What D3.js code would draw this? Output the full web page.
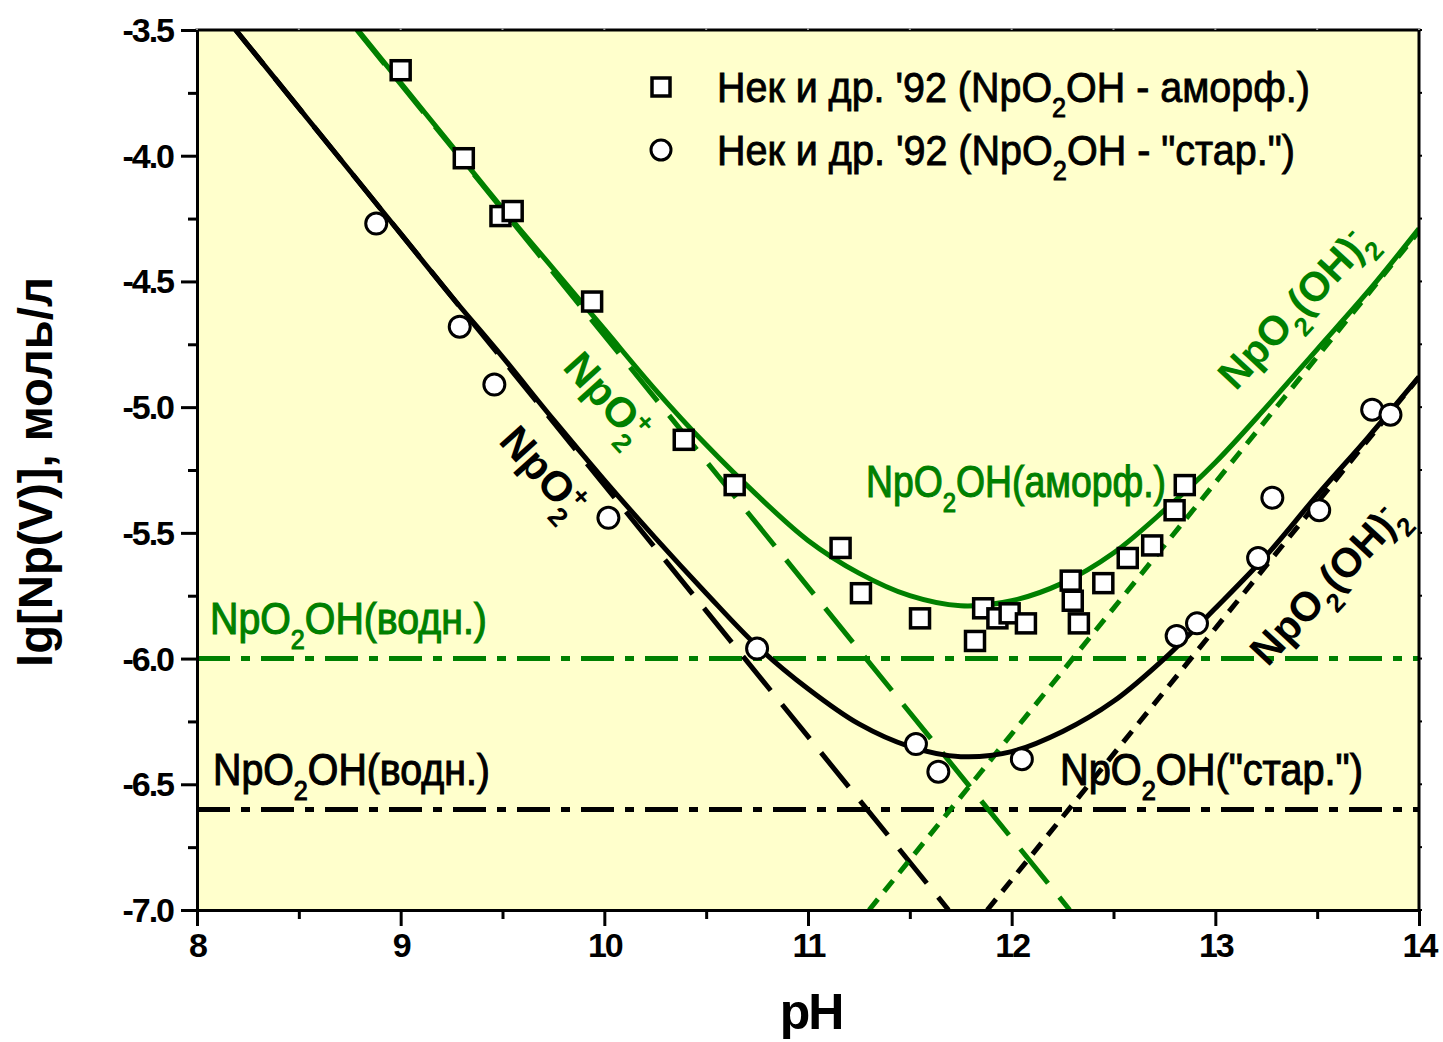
<!DOCTYPE html>
<html>
<head>
<meta charset="utf-8">
<script src="https://cdn.jsdelivr.net/npm/d3@7"></script>
<style>
  body { margin: 0; background: #ffffff; }
  svg { display: block; }
</style>
</head>
<body>
<svg id="chart" width="1443" height="1042"></svg>
<script>
// ---- axes ----
const phDomain = [8, 14];
const lgDomain = [-7.0, -3.5];
const xMajorTicks = [8, 9, 10, 11, 12, 13, 14];
const xTickLabels = ["8", "9", "10", "11", "12", "13", "14"];
const xMinorTicks = [8.5, 9.5, 10.5, 11.5, 12.5, 13.5];
const yMajorTicks = [-3.5, -4.0, -4.5, -5.0, -5.5, -6.0, -6.5, -7.0];
const yTickLabels = ["-3.5", "-4.0", "-4.5", "-5.0", "-5.5", "-6.0", "-6.5", "-7.0"];
const yMinorTicks = [-3.75, -4.25, -4.75, -5.25, -5.75, -6.25, -6.75];

// ---- measured solubility, Нек и др. '92 ----
const amorphPH = [9.00, 9.31, 9.49, 9.55, 9.94, 10.39, 10.64, 11.16, 11.26, 11.55, 11.82, 11.86, 11.93, 11.99, 12.07, 12.29, 12.30, 12.33, 12.45, 12.57, 12.69, 12.80, 12.85];
const amorphLg = [-3.66, -4.01, -4.24, -4.22, -4.58, -5.13, -5.31, -5.56, -5.74, -5.84, -5.93, -5.80, -5.84, -5.82, -5.86, -5.69, -5.77, -5.86, -5.70, -5.60, -5.55, -5.41, -5.31];
const agedPH = [8.88, 9.29, 9.46, 10.02, 10.75, 11.53, 11.64, 12.05, 12.81, 12.91, 13.21, 13.28, 13.51, 13.77, 13.86];
const agedLg = [-4.27, -4.68, -4.91, -5.44, -5.96, -6.34, -6.45, -6.40, -5.91, -5.86, -5.60, -5.36, -5.41, -5.01, -5.03];

// ---- total solubility curves ----
const curvePH = [8.00, 8.25, 8.50, 8.75, 9.00, 9.25, 9.50, 9.75, 10.00, 10.25, 10.50, 10.75, 11.00, 11.25, 11.50, 11.75, 12.00, 12.25, 12.50, 12.75, 13.00, 13.25, 13.50, 13.75, 14.00];
const amorphTotal = [-2.71, -2.96, -3.21, -3.46, -3.71, -3.96, -4.21, -4.45, -4.69, -4.93, -5.15, -5.35, -5.53, -5.66, -5.75, -5.79, -5.77, -5.70, -5.58, -5.41, -5.22, -5.00, -4.77, -4.54, -4.29];
const agedTotal = [-3.31, -3.56, -3.81, -4.06, -4.31, -4.56, -4.80, -5.05, -5.29, -5.52, -5.74, -5.95, -6.12, -6.26, -6.35, -6.39, -6.37, -6.29, -6.17, -6.00, -5.80, -5.59, -5.35, -5.12, -4.88];

// ---- species contributions (end points [pH, lg]) ----
const npo2AmorphLine = [[8.785, -3.5], [12.285, -7.0]];
const npo2AgedLine = [[8.19, -3.5], [11.69, -7.0]];
const hydroxoAmorphLine = [[11.30, -7.0], [14.0, -4.30]];
const hydroxoAgedLine = [[11.88, -7.0], [14.0, -4.88]];
const aqAmorphLevel = -6.0;
const aqAgedLevel = -6.6;

const GREEN = "#008000";
const BLACK = "#000000";
const FONT = "'Liberation Sans', Arial, Helvetica, sans-serif";

const svg = d3.select("#chart");
const pLeft = 197, pTop = 30, pRight = 1419, pBottom = 910;

const x = d3.scaleLinear().domain(phDomain).range([pLeft, pRight]);
const y = d3.scaleLinear().domain(lgDomain).range([pBottom, pTop]);

svg.append("rect").attr("width", 1443).attr("height", 1042).attr("fill", "#ffffff");

svg.append("defs").append("clipPath").attr("id", "plotClip")
  .append("rect").attr("x", pLeft).attr("y", pTop).attr("width", pRight - pLeft).attr("height", pBottom - pTop);

svg.append("rect")
  .attr("x", pLeft).attr("y", pTop).attr("width", pRight - pLeft).attr("height", pBottom - pTop)
  .attr("fill", "#FFFFCC");

const plot = svg.append("g").attr("clip-path", "url(#plotClip)");

const line = d3.line().x(d => x(d[0])).y(d => y(d[1]));
const smooth = d3.line().x(d => x(d[0])).y(d => y(d[1])).curve(d3.curveCatmullRom.alpha(0.5));

// NpO2OH(aq) levels
[[aqAmorphLevel, GREEN], [aqAgedLevel, BLACK]].forEach(([lv, c]) => {
  plot.append("path")
    .attr("d", line([[phDomain[0], lv], [phDomain[1], lv]]))
    .attr("fill", "none").attr("stroke", c).attr("stroke-width", 5)
    .attr("stroke-dasharray", "33,11,9,11");
});

// NpO2+ contributions (long dash)
[[npo2AmorphLine, GREEN], [npo2AgedLine, BLACK]].forEach(([pts, c]) => {
  plot.append("path").attr("d", line(pts))
    .attr("fill", "none").attr("stroke", c).attr("stroke-width", 5)
    .attr("stroke-dasharray", "44,18");
});

// NpO2(OH)2- contributions (short dash)
[[hydroxoAmorphLine, GREEN], [hydroxoAgedLine, BLACK]].forEach(([pts, c]) => {
  plot.append("path").attr("d", line(pts))
    .attr("fill", "none").attr("stroke", c).attr("stroke-width", 5)
    .attr("stroke-dasharray", "14,10");
});

// total solubility
[[amorphTotal, GREEN], [agedTotal, BLACK]].forEach(([vals, c]) => {
  plot.append("path").attr("d", smooth(curvePH.map((p, i) => [p, vals[i]])))
    .attr("fill", "none").attr("stroke", c).attr("stroke-width", 5);
});

// data points
const SQ = 19, R = 10.5;
svg.append("g").selectAll("rect").data(amorphPH.map((p, i) => [p, amorphLg[i]])).join("rect")
  .attr("x", d => x(d[0]) - SQ / 2).attr("y", d => y(d[1]) - SQ / 2)
  .attr("width", SQ).attr("height", SQ)
  .attr("fill", "#ffffff").attr("stroke", BLACK).attr("stroke-width", 3.5);
svg.append("g").selectAll("circle").data(agedPH.map((p, i) => [p, agedLg[i]])).join("circle")
  .attr("cx", d => x(d[0])).attr("cy", d => y(d[1])).attr("r", R)
  .attr("fill", "#ffffff").attr("stroke", BLACK).attr("stroke-width", 3);

// ---- text with chemical sub/superscripts ----
function chemText(parent, parts, o) {
  const g = parent.append("g")
    .attr("transform", `translate(${o.x},${o.y}) rotate(${o.angle || 0})`);
  const t = g.append("text")
    .attr("font-family", FONT).attr("font-size", o.size)
    .attr("font-weight", o.weight || 400).attr("fill", o.color || BLACK);
  if (o.heavy) t.attr("stroke", o.color || BLACK).attr("stroke-width", o.heavy);
  let shift = 0, lastW = 0;
  parts.forEach(p => {
    const s = typeof p === "string" ? { t: p } : p;
    const ts = t.append("tspan").text(s.t);
    let target = 0, fs = o.size;
    if (s.k === "sub") { target = 0.34 * o.size; fs = 0.64 * o.size; }
    if (s.k === "sup") { target = -0.40 * o.size; fs = 0.64 * o.size; }
    ts.attr("font-size", fs).attr("dy", target - shift);
    if (s.back) ts.attr("dx", -lastW);
    shift = target;
    lastW = ts.node().getComputedTextLength();
  });
  const bb = t.node().getBBox();
  const sx = o.width ? o.width / bb.width : 1;
  let tx = -bb.x, ty = 0;
  if (o.anchor === "middle") { tx = -bb.x - bb.width / 2; ty = -(bb.y + bb.height / 2); }
  if (o.anchor === "end") tx = -bb.x - bb.width;
  t.attr("transform", `scale(${sx},1) translate(${tx},${ty})`);
  return t;
}

const labels = svg.append("g");
chemText(labels, ["NpO", { t: "2", k: "sub" }, "OH(водн.)"],
  { x: 210, y: 634, size: 44, color: GREEN, width: 277, heavy: 1.1 });
chemText(labels, ["NpO", { t: "2", k: "sub" }, "OH(водн.)"],
  { x: 213, y: 785, size: 44, color: BLACK, width: 277, heavy: 1.1 });
chemText(labels, ["NpO", { t: "2", k: "sub" }, "OH(аморф.)"],
  { x: 866, y: 497, size: 44, color: GREEN, width: 300, heavy: 1.1 });
chemText(labels, ["NpO", { t: "2", k: "sub" }, "OH(\"стар.\")"],
  { x: 1060, y: 785, size: 44, color: BLACK, width: 303, heavy: 1.1 });

chemText(labels, ["NpO", { t: "2", k: "sub" }, { t: "+", k: "sup", back: true }],
  { x: 604, y: 400, angle: 48, size: 42, weight: 700, color: GREEN, anchor: "middle" });
chemText(labels, ["NpO", { t: "2", k: "sub" }, { t: "+", k: "sup", back: true }],
  { x: 540, y: 474, angle: 48, size: 42, weight: 700, color: BLACK, anchor: "middle" });
chemText(labels, ["NpO", { t: "2", k: "sub" }, "(OH)", { t: "2", k: "sub" }, { t: "-", k: "sup", back: true }],
  { x: 1298, y: 310, angle: -47, size: 41, weight: 700, color: GREEN, anchor: "middle" });
chemText(labels, ["NpO", { t: "2", k: "sub" }, "(OH)", { t: "2", k: "sub" }, { t: "-", k: "sup", back: true }],
  { x: 1330, y: 586, angle: -47, size: 41, weight: 700, color: BLACK, anchor: "middle" });

// ---- legend ----
const legend = svg.append("g");
legend.append("rect").attr("x", 661 - 9).attr("y", 87 - 9).attr("width", 18).attr("height", 18)
  .attr("fill", "#ffffff").attr("stroke", BLACK).attr("stroke-width", 3.5);
legend.append("circle").attr("cx", 661).attr("cy", 150).attr("r", 10)
  .attr("fill", "#ffffff").attr("stroke", BLACK).attr("stroke-width", 3);
chemText(legend, ["Нек и др. '92 (NpO", { t: "2", k: "sub" }, "OH - аморф.)"],
  { x: 717, y: 102, size: 43, color: BLACK, width: 593, heavy: 0.9 });
chemText(legend, ["Нек и др. '92 (NpO", { t: "2", k: "sub" }, "OH - \"стар.\")"],
  { x: 717, y: 165, size: 43, color: BLACK, width: 578, heavy: 0.9 });

// ---- axes ----
function styleAxis(g) {
  g.selectAll(".domain").attr("stroke", BLACK).attr("stroke-width", 3);
  g.selectAll(".tick line").attr("stroke", BLACK).attr("stroke-width", 3);
  g.selectAll(".tick text").attr("font-family", FONT).attr("font-weight", 700)
    .attr("font-size", 34).attr("fill", BLACK).attr("letter-spacing", -2);
}

const yAxis = svg.append("g").attr("transform", `translate(${pLeft},0)`)
  .call(d3.axisLeft(y).tickValues(yMajorTicks).tickSize(16).tickSizeOuter(0)
    .tickPadding(8).tickFormat((d, i) => yTickLabels[i]));
styleAxis(yAxis);
yAxis.selectAll(".tick text").attr("dy", "0.34em");
const yMinor = svg.append("g").attr("transform", `translate(${pLeft},0)`)
  .call(d3.axisLeft(y).tickValues(yMinorTicks).tickSize(9).tickFormat(""));
styleAxis(yMinor);
yMinor.select(".domain").remove();

const xAxis = svg.append("g").attr("transform", `translate(0,${pBottom})`)
  .call(d3.axisBottom(x).tickValues(xMajorTicks).tickSize(16).tickSizeOuter(0)
    .tickPadding(7).tickFormat((d, i) => xTickLabels[i]));
styleAxis(xAxis);
const xMinor = svg.append("g").attr("transform", `translate(0,${pBottom})`)
  .call(d3.axisBottom(x).tickValues(xMinorTicks).tickSize(9).tickFormat(""));
styleAxis(xMinor);
xMinor.select(".domain").remove();

// frame on top and right with small ticks
const frame = svg.append("g");
frame.append("line").attr("x1", pLeft - 1.5).attr("x2", pRight + 1.5).attr("y1", pTop).attr("y2", pTop)
  .attr("stroke", BLACK).attr("stroke-width", 3);
frame.append("line").attr("x1", pRight).attr("x2", pRight).attr("y1", pTop).attr("y2", pBottom + 1.5)
  .attr("stroke", BLACK).attr("stroke-width", 3);
frame.selectAll(".rt").data(yMajorTicks.concat(yMinorTicks)).join("line")
  .attr("x1", pRight).attr("x2", pRight + 3).attr("y1", d => y(d)).attr("y2", d => y(d))
  .attr("stroke", BLACK).attr("stroke-width", 2);
frame.selectAll(".tt").data(xMajorTicks.concat(xMinorTicks)).join("line")
  .attr("x1", d => x(d)).attr("x2", d => x(d)).attr("y1", pTop).attr("y2", pTop - 2)
  .attr("stroke", "#999999").attr("stroke-width", 2);

// axis titles
svg.append("text").attr("x", 811).attr("y", 1029).attr("text-anchor", "middle")
  .attr("font-family", FONT).attr("font-weight", 700).attr("font-size", 50)
  .attr("letter-spacing", -2).text("pH");
const yTitle = svg.append("text")
  .attr("transform", "translate(52,472) rotate(-90)").attr("text-anchor", "middle")
  .attr("font-family", FONT).attr("font-weight", 700).attr("font-size", 48)
  .text("lg[Np(V)], моль/л");
const yl = yTitle.node().getComputedTextLength();
yTitle.attr("transform", `translate(52,472) rotate(-90) scale(${390 / yl},1)`);
</script>
</body>
</html>
